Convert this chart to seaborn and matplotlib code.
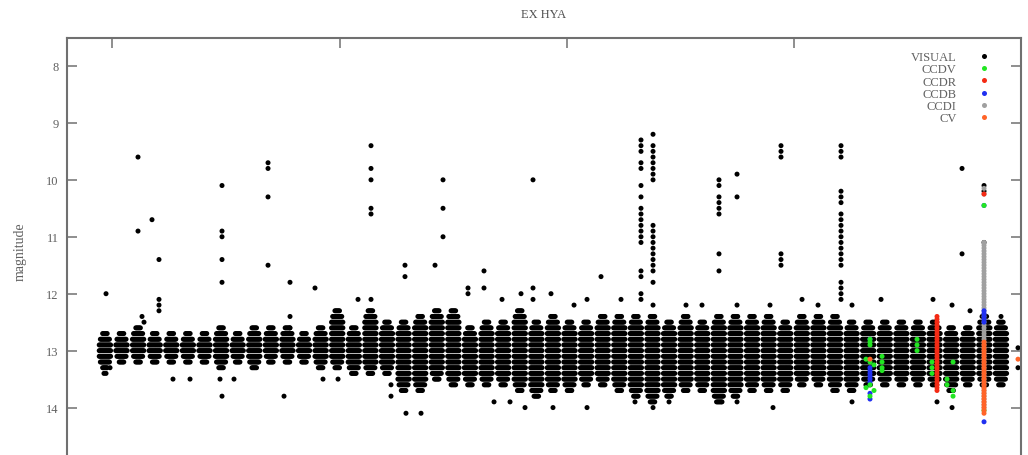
import matplotlib
matplotlib.use("Agg")
import matplotlib.pyplot as plt
import pandas as pd
import seaborn as sns

# visual estimates: one observing season per year, dense part of each season
season_year = list(range(1954, 2009))
season_bright = [12.7, 12.7, 12.6, 12.7, 12.7, 12.7, 12.7, 12.6, 12.7, 12.6, 12.6, 12.6, 12.7, 12.6,
                 12.3, 12.6, 12.3, 12.5, 12.5, 12.4, 12.3, 12.3, 12.6,
                 12.5, 12.5, 12.3, 12.5, 12.4, 12.5, 12.5, 12.4, 12.4,
                 12.4, 12.4, 12.5, 12.4, 12.5, 12.4, 12.4, 12.4,
                 12.4, 12.5, 12.4, 12.4, 12.4, 12.5, 12.5, 12.5,
                 12.5, 12.5, 12.5, 12.6, 12.6, 12.4, 12.5]
season_faint = [13.3, 13.2, 13.2, 13.2, 13.2, 13.2, 13.2, 13.3, 13.2, 13.3, 13.2, 13.2, 13.2, 13.3,
                13.3, 13.4, 13.4, 13.4, 13.7, 13.7, 13.5, 13.6, 13.6,
                13.6, 13.6, 13.7, 13.8, 13.7, 13.7, 13.6, 13.6, 13.7,
                13.8, 13.9, 13.8, 13.7, 13.7, 13.9, 13.8, 13.7,
                13.7, 13.7, 13.6, 13.6, 13.7, 13.7, 13.6, 13.6,
                13.6, 13.6, 13.6, 13.7, 13.6, 13.6, 13.6]

# nights inside a season (days from season centre) and how much narrower
# the spread of estimates is on those nights
night_offset = [-125, -100, -75, -50, -25, 0, 25, 50, 75, 100, 125]
night_trim = [0.2, 0.1, 0.1, 0.0, 0.0, 0.0, 0.0, 0.0, 0.1, 0.1, 0.2]

# visual estimates off the main band (outbursts, stray points)
visual_extra_jd = [2434814, 2434859, 2434947, 2435563, 2435651, 2435695, 2435871, 2436025,
                   2436333, 2436708, 2437368, 2437412, 2437676, 2438425, 2438777, 2438909,
                   2439459, 2439635, 2439966, 2440406, 2440692, 2441132, 2441440, 2441462,
                   2441793, 2442101, 2442277, 2442827, 2443179, 2443400, 2443576, 2443752,
                   2443994, 2444082, 2444258, 2444654, 2444698, 2445161, 2445447, 2445755,
                   2446195, 2446503, 2446635, 2446900, 2447252, 2447626, 2447978, 2448352,
                   2448418, 2448749, 2449475, 2449541, 2449717, 2450180, 2450532, 2451038,
                   2451280, 2451919, 2453063, 2453151, 2453482, 2453702, 2453878, 2454186,
                   2454560, 2454934]
visual_extra_mag = [[13.4], [12.0, 13.4], [13.3], [9.6, 10.9], [12.4], [12.5], [10.7],
                    [11.4, 12.1, 12.2, 12.3],
                    [13.5], [13.5], [13.5], [10.1, 10.9, 11.0, 11.4, 11.8, 13.8], [13.5],
                    [9.7, 9.8, 10.3, 11.5], [13.8], [11.8, 12.4, 12.6],
                    [11.9], [13.5], [13.5], [12.1], [9.4, 9.8, 10.0, 10.5, 10.6, 12.1],
                    [13.6, 13.8], [11.5, 11.7], [14.1],
                    [14.1], [11.5], [10.0, 10.5, 11.0], [11.9, 12.0], [11.6, 11.9], [13.9],
                    [12.1], [13.9],
                    [12.0], [14.0], [10.0, 11.9, 12.1], [12.0], [14.0], [12.2], [12.1, 14.0],
                    [11.7],
                    [12.1], [13.9],
                    [9.3, 9.4, 9.5, 9.7, 9.8, 10.1, 10.3, 10.5, 10.6, 10.7, 10.8, 10.9, 11.0,
                     11.1, 11.6, 11.7, 12.0, 12.1],
                    [9.2, 9.4, 9.5, 9.6, 9.7, 9.8, 9.9, 10.0, 10.8, 10.9, 11.0, 11.1, 11.2,
                     11.3, 11.4, 11.5, 11.6, 11.8, 12.2, 14.0],
                    [13.9], [12.2], [12.2], [10.0, 10.1, 10.3, 10.4, 10.5, 10.6, 11.3, 11.6],
                    [13.9], [9.9, 10.3, 12.2, 13.9], [12.2], [14.0],
                    [9.4, 9.5, 9.6, 11.3, 11.4, 11.5], [12.1], [12.2],
                    [9.4, 9.5, 9.6, 10.2, 10.3, 10.4, 10.6, 10.7, 10.8, 10.9, 11.0, 11.1, 11.2,
                     11.3, 11.4, 11.5, 11.8, 11.9, 12.0, 12.1],
                    [12.2, 13.9], [12.1], [12.1], [13.9], [12.2, 14.0], [9.8, 11.3], [12.3],
                    [10.1, 10.2, 11.1],
                    [12.4], [12.95, 13.3]]

# CCD and CV measurements
ccdv_jd = [2451676, 2451676, 2451676, 2451588, 2451676, 2451764, 2451676, 2451588, 2451764,
           2451676, 2451941, 2451941, 2451941, 2451941, 2452711, 2452711, 2452711,
           2453041, 2453041, 2453041, 2453371, 2453504, 2453371, 2453504, 2453504,
           2454186, 2454186]
ccdv_mag = [12.8, 12.85, 12.9, 13.15, 13.2, 13.25, 13.6, 13.65, 13.7,
            13.8, 13.1, 13.2, 13.3, 13.35, 12.8, 12.9, 13.0,
            13.2, 13.3, 13.4, 13.5, 13.2, 13.6, 13.7, 13.8,
            10.45, 14.05]
ccdr_jd = [2453151] * 27 + [2454186]
ccdr_mag = [12.4, 12.45, 12.5, 12.55, 12.6, 12.65, 12.7, 12.75, 12.8, 12.85, 12.9, 12.95, 13.0,
            13.05, 13.1, 13.15, 13.2, 13.25, 13.3, 13.35, 13.4, 13.45, 13.5, 13.55, 13.6,
            13.65, 13.7, 10.25]
ccdb_jd = [2451676] * 9 + [2454186] * 7
ccdb_mag = [12.8, 13.3, 13.35, 13.4, 13.45, 13.5, 13.55, 13.75, 13.85,
            10.45, 12.3, 12.35, 12.4, 12.45, 12.5, 14.25]
ccdi_jd = [2454186] * 61
ccdi_mag = [10.15, 10.25, 11.1, 11.15, 11.2, 11.25, 11.3, 11.35, 11.4, 11.45, 11.5, 11.55,
            11.6, 11.65, 11.7, 11.75, 11.8, 11.85, 11.9, 11.95, 12.0, 12.05, 12.1, 12.15,
            12.2, 12.25, 12.3, 12.35, 12.4, 12.45, 12.5, 12.55, 12.6, 12.65, 12.7, 12.75,
            12.8, 12.85, 12.9, 12.95, 13.0, 13.05, 13.1, 13.15, 13.2, 13.25, 13.3, 13.35,
            13.4, 13.45, 13.5, 13.55, 13.6, 13.65, 13.7, 13.75, 13.8, 13.85, 13.9, 13.95,
            14.0]
cv_jd = [2451676, 2454934] + [2454186] * 26
cv_mag = [13.15, 13.15,
          12.85, 12.9, 12.95, 13.0, 13.05, 13.1, 13.15, 13.2, 13.25, 13.3, 13.35, 13.4,
          13.45, 13.5, 13.55, 13.6, 13.65, 13.7, 13.75, 13.8, 13.85, 13.9, 13.95, 14.0,
          14.05, 14.1]

band_order = ["VISUAL", "CCDV", "CCDR", "CCDB", "CCDI", "CV"]
band_colors = {"VISUAL": "#000000", "CCDV": "#22e622", "CCDR": "#f42a14",
               "CCDB": "#2030f0", "CCDI": "#a0a0a0", "CV": "#ff6428"}

rows = []
for year, lo, hi in zip(season_year, season_bright, season_faint):
    centre = 2434104 + (year - 1952) * 365.25
    for off, trim in zip(night_offset, night_trim):
        n = int(round((hi - lo - 2 * trim) * 10)) + 1
        for k in range(n):
            rows.append(("VISUAL", centre + off, round(lo + trim + 0.1 * k, 2)))
for jd, mags in zip(visual_extra_jd, visual_extra_mag):
    rows += [("VISUAL", jd, m) for m in mags]
# draw order: CCD sets on top of the visual estimates
for band, jds, mags in [("CCDI", ccdi_jd, ccdi_mag), ("CCDB", ccdb_jd, ccdb_mag),
                        ("CCDV", ccdv_jd, ccdv_mag), ("CCDR", ccdr_jd, ccdr_mag),
                        ("CV", cv_jd, cv_mag)]:
    rows += [(band, j, m) for j, m in zip(jds, mags)]
df = pd.DataFrame(rows, columns=["band", "jd", "mag"])

sns.set_theme(style="ticks")
plt.rcParams["font.family"] = ["Liberation Serif", "DejaVu Serif"]

fig = plt.figure(figsize=(10.28, 4.56), dpi=100)
ax = fig.add_axes([67 / 1028, -9.5 / 456, 954 / 1028, 427 / 456])
sns.scatterplot(data=df, x="jd", y="mag", hue="band", hue_order=band_order,
                palette=band_colors, s=13, linewidth=0, ax=ax)

ax.set_xlim(2434000, 2455000)
ax.set_ylim(15, 7.5)
ax.set_xticks([2435000, 2440000, 2445000, 2450000])
ax.set_yticks(range(8, 15))
ax.tick_params(direction="in", length=7, width=1.1, color="#707070", labelcolor="#606060",
               labelsize=9, top=True, right=True, pad=6)
ax.tick_params(axis="x", labelbottom=False)
for sp in ax.spines.values():
    sp.set_color("#707070")
    sp.set_linewidth(1.5)
ax.set_xlabel("")
ax.set_ylabel("magnitude", fontsize=10, color="#606060", labelpad=14)
ax.set_title("EX HYA", fontsize=9, color="#505050", pad=15)

sns.move_legend(ax, "upper right", bbox_to_anchor=(0.968, 0.968), title="",
                markerfirst=False, frameon=False, handlelength=1.0, handletextpad=1.7,
                labelspacing=0.02, fontsize=9, labelcolor="#606060",
                borderpad=0, borderaxespad=0)

fig.savefig("out.png", dpi=100)
